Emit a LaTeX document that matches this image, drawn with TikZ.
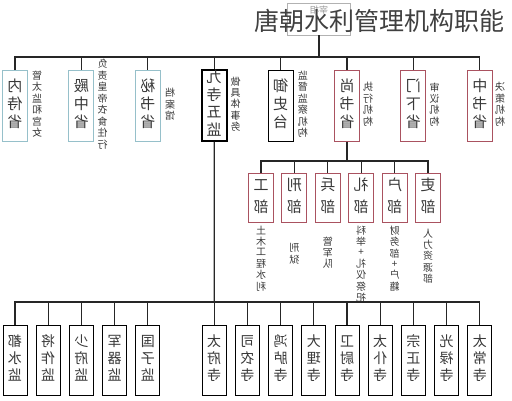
\documentclass[tikz,border=0pt]{standalone}
\usepackage{fontspec}
\usepackage{graphicx}
\newfontfamily\cjk{Noto Sans CJK SC}
\usetikzlibrary{positioning}

\definecolor{shengblue}{RGB}{150,192,202}
\definecolor{shengred}{RGB}{170,82,96}
\definecolor{inkgray}{RGB}{55,55,55}
% mirrored vertical text
\newcommand{\vtxt}[1]{\reflectbox{\begin{tabular}{@{}c@{}}#1\end{tabular}}}

\begin{document}
\begin{tikzpicture}[x=1pt,y=1pt,node distance=66.4pt,
  box/.style={draw,rectangle,inner sep=0pt,line width=1pt,text=inkgray,font=\cjk\fontsize{15}{18}\selectfont},
  gongsheng/.style={box,draw=shengblue,minimum width=25pt,minimum height=71pt},
  heisheng/.style={box,draw=black,minimum width=25pt,minimum height=71pt},
  zaisheng/.style={box,draw=shengred,minimum width=25pt,minimum height=71pt},
  bu/.style={box,draw=shengred,minimum width=25pt,minimum height=49pt,font=\cjk\fontsize{15}{22}\selectfont},
  jian/.style={box,draw=black,minimum width=24pt,minimum height=70pt,font=\cjk\fontsize{14}{17}\selectfont},
  note/.style={inner sep=0pt,text=inkgray,font=\cjk\fontsize{10}{10.2}\selectfont},
  zaixiang/.style={draw=black!30,line width=0.6pt,minimum width=63pt,inner sep=2pt,text height=8pt,text depth=20pt,text=black!40,font=\cjk\fontsize{9}{9}\selectfont},
  line/.style={draw=black!85,line width=1.2pt}]

\useasboundingbox (0,0) rectangle (512,-400);

% root and title
\node[zaixiang] (zx) at (319,-19) {\reflectbox{宰相}};
\node[font=\cjk\fontsize{25}{25}\selectfont,text=black!75] (title) at (379,-21) {唐朝水利管理机构职能};

% top row
\node[gongsheng] (nsh) at (15,-105.5) {\vtxt{内\\侍\\省}};
\node[gongsheng] (dzh) [right of=nsh] {\vtxt{殿\\中\\省}};
\node[gongsheng] (msh) [right of=dzh] {\vtxt{秘\\书\\省}};
\node[heisheng,line width=1.6pt,font=\cjk\fontsize{15}{17.5}\selectfont] (jsw) [right of=msh] {\vtxt{九\\寺\\五\\监}};
\node[heisheng] (ysh) [right of=jsw] {\vtxt{御\\史\\台}};
\node[zaisheng] (ssh) [right of=ysh] {\vtxt{尚\\书\\省}};
\node[zaisheng] (mxs) [right of=ssh] {\vtxt{门\\下\\省}};
\node[zaisheng] (zss) [right of=mxs] {\vtxt{中\\书\\省}};

\node[note,right=4pt of nsh] (nshn) {\vtxt{管\\太\\监\\和\\宫\\女}};
\node[note,right=3pt of dzh] (dzhn) {\vtxt{负\\责\\皇\\帝\\衣\\食\\住\\行}};
\node[note,right=4pt of msh] (mshn) {\vtxt{档\\案\\馆}};
\node[note,right=3pt of jsw] (jswn) {\vtxt{做\\具\\体\\事\\务}};
\node[note,right=4pt of ysh] (yshn) {\vtxt{监\\督\\监\\察\\机\\构}};
\node[note,right=3pt of ssh] (sshn) {\vtxt{执\\行\\机\\构}};
\node[note,right=3pt of mxs] (mxsn) {\vtxt{审\\议\\机\\构}};
\node[note,right=2pt of zss] (zssn) {\vtxt{决\\策\\机\\构}};

% six ministries
\begin{scope}[node distance=33.4pt]
\node[bu] (gbu) at (261,-197.5) {\vtxt{工\\部}};
\node[bu] (xbu) [right of=gbu] {\vtxt{刑\\部}};
\node[bu] (bbu) [right of=xbu] {\vtxt{兵\\部}};
\node[bu] (lbu) [right of=bbu] {\vtxt{礼\\部}};
\node[bu] (hbu) [right of=lbu] {\vtxt{户\\部}};
\node[bu] (ibu) [right of=hbu] {\vtxt{吏\\部}};
\end{scope}

\node[note,below=3pt of gbu] (gbun) {\vtxt{土\\木\\工\\程\\水\\利}};
\node[note] (xbun) at (xbu |- 0,-255) {\vtxt{刑\\狱}};
\node[note] (bbun) at (bbu |- 0,-254) {\vtxt{管\\军\\队}};
\node[note,below=3pt of lbu] (lbun) {\vtxt{科\\举\\+\\礼\\仪\\祭\\祀}};
\node[note,below=3pt of hbu] (hbun) {\vtxt{财\\务\\部\\+\\户\\籍}};
\node[note,below=6pt of ibu] (ibun) {\vtxt{人\\力\\资\\源\\部}};

% nine courts, five directorates
\begin{scope}[node distance=33.2pt]
\node[jian] (dsj) at (15,-360) {\vtxt{都\\水\\监}};
\node[jian] (jzj) [right of=dsj] {\vtxt{将\\作\\监}};
\node[jian] (sfj) [right of=jzj] {\vtxt{少\\府\\监}};
\node[jian] (jqj) [right of=sfj] {\vtxt{军\\器\\监}};
\node[jian] (gzj) [right of=jqj] {\vtxt{国\\子\\监}};
\node[jian] (tfs) at (214.2,-360) {\vtxt{太\\府\\寺}};
\node[jian] (sns) [right of=tfs] {\vtxt{司\\农\\寺}};
\node[jian] (hls) [right of=sns] {\vtxt{鸿\\胪\\寺}};
\node[jian] (dls) [right of=hls] {\vtxt{大\\理\\寺}};
\node[jian] (wws) [right of=dls] {\vtxt{卫\\尉\\寺}};
\node[jian] (tps) [right of=wws] {\vtxt{太\\仆\\寺}};
\node[jian] (zzs) [right of=tps] {\vtxt{宗\\正\\寺}};
\node[jian] (gls) [right of=zzs] {\vtxt{光\\禄\\寺}};
\node[jian] (tcs) [right of=gls] {\vtxt{太\\常\\寺}};
\end{scope}

% connectors
\coordinate (topbus) at (319,-57);
\coordinate (bubus) at (347,-161);
\coordinate (jianbus) at (214.2,-302);

\draw[line] (zx.south) -- (topbus);
\draw[line] (nsh.north) |- (topbus) -| (zss.north);
\foreach \n in {dzh,msh,jsw,ysh,ssh,mxs}
  \draw[line] (\n.north) -- (\n.north |- topbus);

\draw[line] (ssh.south) -- (ssh.south |- bubus);
\draw[line] (gbu.north) |- (bubus) -| (ibu.north);
\foreach \n in {xbu,bbu,lbu,hbu}
  \draw[line] (\n.north) -- (\n.north |- bubus);

\draw[line] (jsw.south) -- (jianbus);
\draw[line] (dsj.north) |- (jianbus) -| (tcs.north);
\foreach \n in {jzj,sfj,jqj,gzj,tfs,sns,hls,dls,wws,tps,zzs,gls}
  \draw[line] (\n.north) -- (\n.north |- jianbus);

\end{tikzpicture}
\end{document}
